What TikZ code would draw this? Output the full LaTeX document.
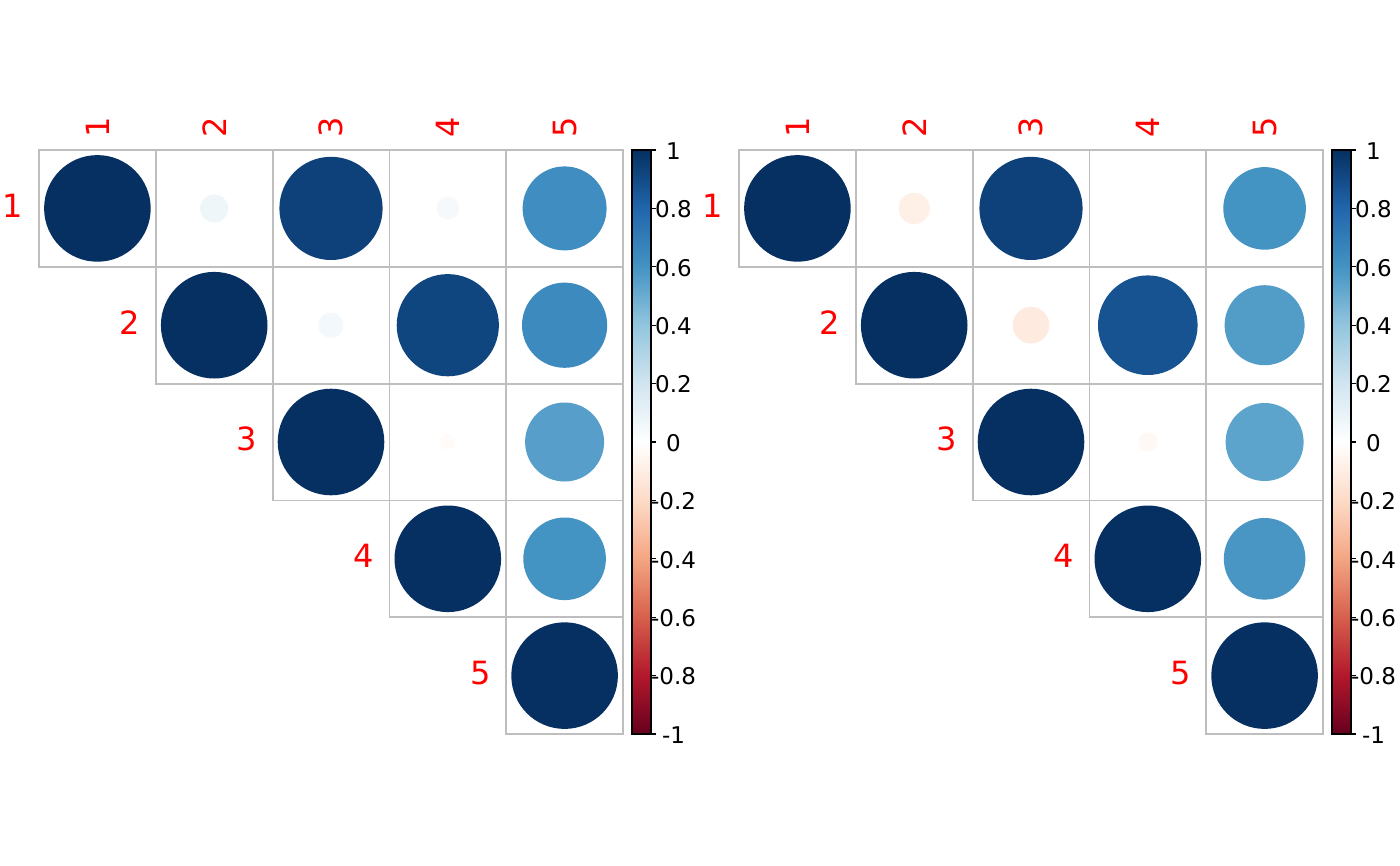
\documentclass[tikz,border=0pt]{standalone}
\usepackage{fontspec}
\setmainfont{DejaVu Sans}
\definecolor{cn10}{HTML}{67001F}
\definecolor{cn8}{HTML}{B2182B}
\definecolor{cn6}{HTML}{D6604D}
\definecolor{cn4}{HTML}{F4A582}
\definecolor{cn2}{HTML}{FDDBC7}
\definecolor{cp2}{HTML}{D1E5F0}
\definecolor{cp4}{HTML}{92C5DE}
\definecolor{cp6}{HTML}{4393C3}
\definecolor{cp8}{HTML}{2166AC}
\definecolor{cp10}{HTML}{053061}
\definecolor{gridgray}{HTML}{BEBEBE}
\pgfdeclareverticalshading{rdbu}{100bp}{color(0bp)=(cn10); color(25bp)=(cn10); color(30bp)=(cn8); color(35bp)=(cn6); color(40bp)=(cn4); color(45bp)=(cn2); color(50bp)=(white); color(55bp)=(cp2); color(60bp)=(cp4); color(65bp)=(cp6); color(70bp)=(cp8); color(75bp)=(cp10); color(100bp)=(cp10)}
\def\cs{116.8}
\newcommand{\corrpanel}[2]{%
  % circles
  \foreach \i/\j/\r/\c in {#2} {
    \fill[fill=\c] ({(\j-0.5)*\cs},{(\i-0.5)*\cs}) circle[radius=\r];
  }
  % grid
  \foreach \i in {1,...,5} {
    \foreach \j in {\i,...,5} {
      \draw[gridline] ({(\j-1)*\cs},{(\i-1)*\cs}) rectangle ({\j*\cs},{\i*\cs});
    }
  }
  % labels
  \foreach \i in {1,...,5} {
    \node[rowlab] (#1-row-\i) at ({(\i-1)*\cs-15.5},{(\i-0.5)*\cs-3}) {\i};
    \node[collab] (#1-col-\i) at ({(\i-0.5)*\cs},-12.5) {\i};
  }
  % colour bar
  \shade[shading=rdbu] (593,0) rectangle (612,{5*\cs});
  \draw[line width=1.1pt] (593,0) rectangle (612,{5*\cs});
  \foreach \k/\lab in {0/1,1/0.8,2/0.6,3/0.4,4/0.2,5/0,6/-0.2,7/-0.4,8/-0.6,9/-0.8,10/-1} {
    \draw[line width=1.1pt] (612,{\k*0.5*\cs}) -- (616.5,{\k*0.5*\cs});
    \node[barlab] (#1-bar-\k) at (634.5,{\k*0.5*\cs+1}) {\lab};
  }
}
\begin{document}
\begin{tikzpicture}[x=1pt,y=-1pt,
  gridline/.style={draw=gridgray,line width=1.8pt},
  rowlab/.style={text=red,font=\fontsize{32}{38}\selectfont,anchor=east,inner sep=0pt},
  collab/.style={text=red,font=\fontsize{32}{38}\selectfont,anchor=west,rotate=90,inner sep=0pt},
  barlab/.style={text=black,font=\fontsize{23}{28}\selectfont,anchor=center,inner sep=0pt}]
\useasboundingbox[fill=white] (0,0) rectangle (1400,865);
\begin{scope}[shift={(39,150)}]
\corrpanel{L}{1/1/53.3/cp10, 2/2/53.3/cp10, 3/3/53.3/cp10, 4/4/53.3/cp10, 5/5/53.3/cp10,
  1/2/14.1/cp2!35!white, 1/3/51.6/cp10!68!cp8, 1/4/11.3/cp2!22!white, 1/5/42.0/cp8!10!cp6,
  2/3/12.6/cp2!28!white, 2/4/51.1/cp10!60!cp8, 2/5/42.6/cp8!20!cp6,
  3/4/7.7/cn2!10!white, 3/5/39.5/cp6!75!cp4, 4/5/41.3/cp6}
\end{scope}
\begin{scope}[shift={(739,150)}]
\corrpanel{R}{1/1/53.3/cp10, 2/2/53.3/cp10, 3/3/53.3/cp10, 4/4/53.3/cp10, 5/5/53.3/cp10,
  1/2/15.6/cn2!43!white, 1/3/51.6/cp10!68!cp8, 1/5/41.3/cp6,
  2/3/18.3/cn2!59!white, 2/4/49.8/cp10!36!cp8, 2/5/40.0/cp6!81!cp4,
  3/4/9.7/cn2!16!white, 3/5/39.0/cp6!67!cp4, 4/5/40.8/cp6!93!cp4}
\end{scope}
\end{tikzpicture}
\end{document}
